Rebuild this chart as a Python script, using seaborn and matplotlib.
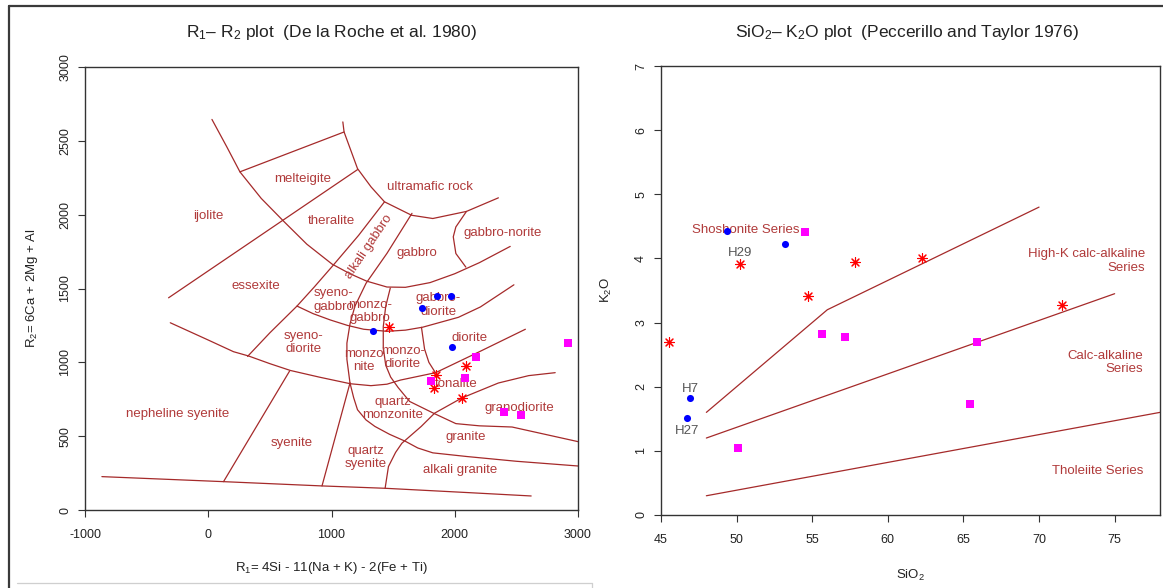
import matplotlib
matplotlib.use("Agg")
import matplotlib.pyplot as plt
from matplotlib.lines import Line2D
import seaborn as sns

# ---------------- R1-R2 classification (De la Roche et al. 1980) ----------------
# field boundaries, each as (R1 values, R2 values)
big_arc = ([30, 150, 257, 430, 617, 800, 1005, 1150, 1285, 1450, 1600, 1800, 2000, 2200, 2450],
           [2645, 2460, 2290, 2110, 1951, 1800, 1665, 1600, 1550, 1510, 1508, 1540, 1600, 1675, 1785])
melteigite_top = ([257, 1102], [2290, 2560])
ultramafic_arc = ([1092, 1102, 1211, 1321, 1430, 1650, 1822, 2095, 2354],
                  [2628, 2560, 2312, 2188, 2087, 1996, 1974, 2022, 2114])
norite_curve = ([2095, 2009, 1988, 2009, 2090], [2022, 1917, 1850, 1737, 1645])
ijolite_line = ([-322, 1211], [1437, 2305])
alkgabbro_left = ([1430, 1220, 1004, 860, 720, 500, 319], [2087, 1860, 1648, 1510, 1381, 1200, 1040])
monzo_left = ([1653, 1450, 1280, 1190, 1150, 1125, 1125, 1150],
              [2009, 1738, 1535, 1380, 1260, 1130, 1020, 860])
middle_arc = ([720, 850, 990, 1130, 1261, 1451, 1600, 1740, 2030, 2208, 2480],
              [1381, 1330, 1287, 1250, 1224, 1210, 1218, 1238, 1305, 1375, 1525])
lower_arc = ([-308, 0, 205, 327, 500, 666, 900, 1153, 1320, 1450, 1560, 1845, 2200, 2573],
             [1268, 1151, 1072, 1043, 991, 945, 900, 855, 842, 852, 880, 930, 1072, 1224])
monzodiorite_curve = ([1477, 1440, 1420, 1420, 1440, 1480, 1540, 1634, 1829, 2009, 2200, 2465, 3000],
                      [1503, 1380, 1241, 1100, 980, 900, 830, 735, 655, 585, 570, 562, 463])
diorite_left = ([1730, 1755, 1790, 1843], [1237, 1090, 1000, 930])
tonalite_line = ([1435, 1462, 1520, 1571, 1728, 1837, 2056, 2354, 2600, 2815],
                 [147, 294, 390, 452, 566, 656, 758, 860, 910, 930])
qmonzonite_curve = ([1150, 1180, 1211, 1280, 1352, 1470, 1600, 1700, 1822, 2100, 2500, 3000],
                    [860, 760, 679, 610, 566, 513, 465, 420, 387, 362, 330, 298])
qsyenite_left = ([923, 1150], [163, 860])
syenite_left = ([124, 660], [192, 941])
bottom_line = ([-863, 124, 923, 1437, 2127, 2620], [226, 192, 163, 147, 117, 95])

r1r2_fields = [big_arc, melteigite_top, ultramafic_arc, norite_curve, ijolite_line,
               alkgabbro_left, monzo_left, middle_arc, lower_arc, monzodiorite_curve,
               diorite_left, tonalite_line, qmonzonite_curve, qsyenite_left,
               syenite_left, bottom_line]

field_names = ["melteigite", "ultramafic rock", "ijolite", "theralite", "gabbro-norite",
               "gabbro", "essexite", "syeno-\ngabbro", "monzo-\ngabbro", "gabbro-\ndiorite",
               "syeno-\ndiorite", "monzo\nnite", "monzo-\ndiorite", "diorite", "tonalite",
               "quartz\nmonzonite", "granodiorite", "nepheline syenite", "syenite",
               "granite", "quartz\nsyenite", "alkali granite"]
field_r1 = [765, 1800, 0, 1002, 2385, 1696, 390, 1017, 1315, 1865, 774, 1260, 1580,
            2121, 2010, 1500, 2522, -252, 679, 2090, 1280, 2040]
field_r2 = [2240, 2186, 1990, 1958, 1877, 1742, 1515, 1422, 1343, 1388, 1136, 1013, 1034,
            1168, 850, 688, 690, 647, 457, 491, 356, 270]
alkali_gabbro_label = ("alkali gabbro", 1301, 1783)

# samples on R1-R2
r1_blue = [1856, 1970, 1737, 1337, 1975]
r2_blue = [1449, 1449, 1366, 1214, 1102]
r1_red = [1467, 1848, 1829, 2092, 2059]
r2_red = [1237, 914, 824, 975, 756]
r1_mag = [2175, 2920, 1810, 2086, 2397, 2541]
r2_mag = [1034, 1133, 874, 896, 661, 643]

# ---------------- SiO2-K2O (Peccerillo and Taylor 1976) ----------------
shoshonite_line = ([48, 56, 70], [1.6, 3.2, 4.8])
calc_alkaline_line = ([48, 75], [1.2, 3.45])
tholeiite_line = ([48, 78], [0.3, 1.6])

series_names = ["Shoshonite Series", "High-K calc-alkaline\nSeries",
                "Calc-alkaline\nSeries", "Tholeiite Series"]
series_x = [50.6, 77.0, 76.9, 76.9]
series_y = [4.45, 3.96, 2.38, 0.68]
series_ha = ["center", "right", "right", "right"]

sample_names = ["H29", "H7", "H27"]
sample_x = [50.2, 46.95, 46.7]
sample_y = [4.08, 1.97, 1.31]

si_blue = [49.36, 53.18, 46.95, 46.75]
k_blue = [4.43, 4.23, 1.82, 1.51]
si_red = [45.54, 50.22, 54.73, 57.86, 62.29, 71.5]
k_red = [2.69, 3.91, 3.42, 3.95, 4.0, 3.28]
si_mag = [54.5, 55.64, 57.17, 50.1, 65.91, 65.44]
k_mag = [4.41, 2.82, 2.78, 1.05, 2.69, 1.73]

# ---------------- styling ----------------
sns.set_theme(style="white")
plt.rcParams["font.family"] = ["Liberation Sans", "DejaVu Sans"]
plt.rcParams["mathtext.fontset"] = "custom"
plt.rcParams["mathtext.rm"] = "Liberation Sans"
plt.rcParams["mathtext.it"] = "Liberation Sans:italic"
plt.rcParams["mathtext.bf"] = "Liberation Sans:bold"
plt.rcParams["axes.unicode_minus"] = False

LINE = "#A52A2A"
TEXT = "#B03A3A"
AXC = "#333333"
W, H = 1163, 588

fig = plt.figure(figsize=(W / 100, H / 100), dpi=100)
fig.patch.set_facecolor("white")


def px_axes(x0, y0, x1, y1):
    return fig.add_axes([x0 / W, 1 - y1 / H, (x1 - x0) / W, (y1 - y0) / H])


ax1 = px_axes(85, 67, 578, 510)
ax2 = px_axes(661, 66, 1160, 515)


def style_axes(ax):
    ax.set_facecolor("white")
    for s in ax.spines.values():
        s.set_color(AXC)
        s.set_linewidth(1.0)
    ax.tick_params(axis="both", direction="out", length=5, width=0.8, color=AXC,
                   labelsize=9, labelcolor="#222222", bottom=True, left=True)
    ax.tick_params(axis="x", pad=9)
    ax.tick_params(axis="y", pad=5)
    for lab in ax.get_yticklabels():
        lab.set_rotation(90)
        lab.set_va("center")
    ax.grid(False)
    ax.set_xlabel("")
    ax.set_ylabel("")


def draw_line(ax, xy, lw=0.9):
    sns.lineplot(x=xy[0], y=xy[1], sort=False, estimator=None, color=LINE,
                 linewidth=lw, ax=ax, legend=False)


# ---- left panel ----
for b in r1r2_fields:
    draw_line(ax1, b)
for name, x, y in zip(field_names, field_r1, field_r2):
    ax1.text(x, y, name, ha="center", va="center", color=TEXT, fontsize=9.5,
             linespacing=1.15)
ax1.text(alkali_gabbro_label[1], alkali_gabbro_label[2], alkali_gabbro_label[0],
         rotation=56, rotation_mode="anchor", ha="center", va="center",
         color=TEXT, fontsize=9.5)

sns.scatterplot(x=r1_blue, y=r2_blue, color="#0000FF", marker="o", s=26,
                linewidth=0, ax=ax1, legend=False, zorder=5)
sns.scatterplot(x=r1_red, y=r2_red, color="#FF0000", marker=(8, 2, 0), s=50,
                linewidth=0.8, ax=ax1, legend=False, zorder=5)
sns.scatterplot(x=r1_mag, y=r2_mag, color="#FF00FF", marker="s", s=34,
                linewidth=0, ax=ax1, legend=False, zorder=5)

ax1.set_xlim(-1000, 3000)
ax1.set_ylim(0, 3000)
ax1.set_xticks([-1000, 0, 1000, 2000, 3000])
ax1.set_yticks([0, 500, 1000, 1500, 2000, 2500, 3000])
style_axes(ax1)

# ---- right panel ----
for b in (shoshonite_line, calc_alkaline_line, tholeiite_line):
    draw_line(ax2, b)
for name, x, y, ha in zip(series_names, series_x, series_y, series_ha):
    ax2.text(x, y, name, ha=ha, va="center", multialignment=ha,
             color=TEXT, fontsize=9.5, linespacing=1.15)
for name, x, y in zip(sample_names, sample_x, sample_y):
    ax2.text(x, y, name, ha="center", va="center", color="#555555", fontsize=9.5)

sns.scatterplot(x=si_blue, y=k_blue, color="#0000FF", marker="o", s=26,
                linewidth=0, ax=ax2, legend=False, zorder=5)
sns.scatterplot(x=si_red, y=k_red, color="#FF0000", marker=(8, 2, 0), s=50,
                linewidth=0.8, ax=ax2, legend=False, zorder=5)
sns.scatterplot(x=si_mag, y=k_mag, color="#FF00FF", marker="s", s=34,
                linewidth=0, ax=ax2, legend=False, zorder=5)

ax2.set_xlim(45, 78)
ax2.set_ylim(0, 7)
ax2.set_xticks([45, 50, 55, 60, 65, 70, 75])
ax2.set_yticks(range(8))
style_axes(ax2)

# ---- titles and axis labels ----
fig.text(331 / W, 1 - 33 / H, r"R$_1$– R$_2$ plot  (De la Roche et al. 1980)",
         ha="center", va="center", fontsize=12.5, color="#222222")
fig.text(907 / W, 1 - 33 / H, r"SiO$_2$– K$_2$O plot  (Peccerillo and Taylor 1976)",
         ha="center", va="center", fontsize=12.5, color="#222222")
fig.text(331 / W, 1 - 568 / H, r"R$_1$= 4Si - 11(Na + K) - 2(Fe + Ti)",
         ha="center", va="center", fontsize=9.5, color="#222222")
fig.text(32 / W, 1 - 288 / H, r"R$_2$= 6Ca + 2Mg + Al", rotation=90,
         ha="center", va="center", fontsize=9.5, color="#222222")
fig.text(910 / W, 1 - 575 / H, r"SiO$_2$", ha="center", va="center",
         fontsize=9.5, color="#222222")
fig.text(606 / W, 1 - 290 / H, r"K$_2$O", rotation=90, ha="center", va="center",
         fontsize=9.5, color="#222222")

# ---- window frame ----
def fig_line(xs, ys, color, lw):
    fig.add_artist(Line2D([x / W for x in xs], [1 - y / H for y in ys],
                          transform=fig.transFigure, color=color, linewidth=lw))


fig_line([8.5, W], [5.5, 5.5], "#3a3a3a", 1.6)
fig_line([8.5, 8.5], [5.5, H], "#3a3a3a", 1.6)
fig_line([17, 592], [583, 583], "#cfcfcf", 0.9)
fig_line([592, 592], [583, H], "#cfcfcf", 0.9)

fig.savefig("out.png", dpi=100, facecolor="white")
